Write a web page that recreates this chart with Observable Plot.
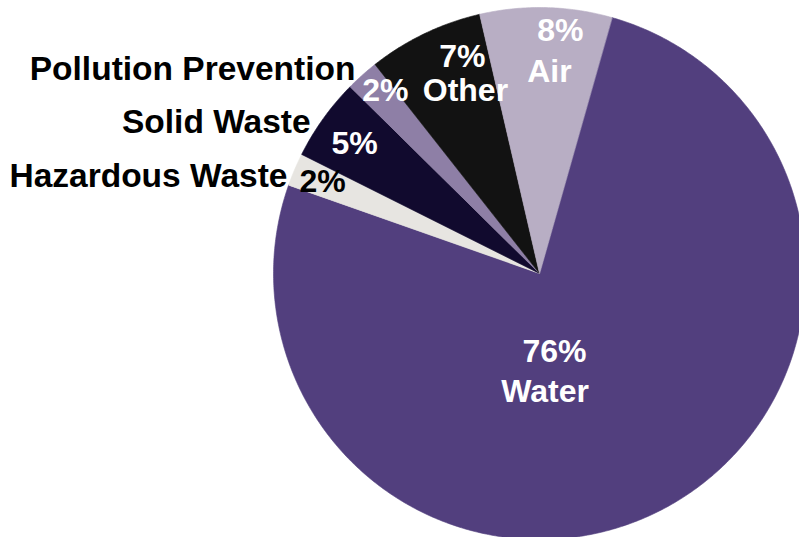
<!DOCTYPE html>
<html><head><meta charset="utf-8">
<script src="https://cdn.jsdelivr.net/npm/d3@7"></script>
<script src="https://cdn.jsdelivr.net/npm/@observablehq/plot@0.6"></script>
<style>html,body{margin:0;padding:0;background:#fff;overflow:hidden} svg{display:block}</style>
</head><body><div id="chart"></div>
<script>
// ---- data ----
const categories = ["Water", "Hazardous Waste", "Solid Waste", "Pollution Prevention", "Other", "Air"];
const shares = [76, 2, 5, 2, 7, 8];
const sliceColors = ["#523f7e", "#e7e5e1", "#110a2e", "#8e7fa6", "#121212", "#b8aec4"];

// ---- layout (label placement relative to slice mid-angle) ----
// [slice index, which text, angle offset (deg), radius factor, anchor, text colour]
const labelLayout = [
  [0, "pct", 16.6, 0.30, "middle", "#ffffff"],
  [0, "name", 24.7, 0.446, "middle", "#ffffff"],
  [1, "pct", -0.1, 0.885, "middle", "#000000"],
  [1, "name", -1.85, 1.016, "end", "#000000"],
  [2, "pct", -0.6, 0.849, "middle", "#ffffff"],
  [2, "name", -2.1, 1.032, "end", "#000000"],
  [3, "pct", 1.6, 0.898, "middle", "#ffffff"],
  [3, "name", -0.2, 1.034, "end", "#000000"],
  [4, "pct", 6.0, 0.864, "middle", "#ffffff"],
  [4, "name", 3.5, 0.740, "middle", "#ffffff"],
  [5, "pct", 3.5, 0.915, "middle", "#ffffff"],
  [5, "name", 1.4, 0.758, "middle", "#ffffff"]
];
const startDeg = 15.8;

// ---- build slices ----
const total = d3.sum(shares);
const slices = [];
let acc = 0;
categories.forEach((c, i) => {
  const a0 = startDeg + acc / total * 360;
  acc += shares[i];
  const a1 = startDeg + acc / total * 360;
  slices.push({c, v: shares[i], a0, a1, mid: (a0 + a1) / 2});
});
const polar = (deg, r) => ({x: r * Math.sin(deg * Math.PI / 180), y: r * Math.cos(deg * Math.PI / 180)});
const pts = [];
slices.forEach(s => {
  pts.push({c: s.c, ...polar(s.a0, 0)});
  const n = Math.max(6, Math.ceil((s.a1 - s.a0) * 2));
  for (let k = 0; k <= n; k++) pts.push({c: s.c, ...polar(s.a0 + (s.a1 - s.a0) * k / n, 1)});
});
const labels = labelLayout.map(([i, kind, dA, r, anchor, col]) => {
  const s = slices[i];
  const p = polar(s.mid + dA, r);
  return {x: p.x, y: p.y, text: kind === "pct" ? s.v + "%" : s.c, anchor, col};
});

const W = 799, H = 537, cx = 539, cy = 273, R = 266;
const chart = Plot.plot({
  width: W, height: H,
  margin: 0,
  x: {domain: [-cx / R, (W - cx) / R], axis: null},
  y: {domain: [-(H - cy) / R, cy / R], axis: null},
  color: {domain: categories, range: sliceColors},
  style: {fontFamily: "'Liberation Sans', Arial, Helvetica, sans-serif", background: "#fff"},
  marks: [
    Plot.line(pts, {x: "x", y: "y", z: "c", fill: "c", stroke: "c", strokeWidth: 0.6, curve: "linear-closed"}),
    Plot.text(labels.filter(d => d.anchor === "middle"), {x: "x", y: "y", text: "text", fill: "col", fontSize: 32, fontWeight: "bold", textAnchor: "middle"}),
    Plot.text(labels.filter(d => d.anchor === "end"), {x: "x", y: "y", text: "text", fill: "col", fontSize: 33.5, fontWeight: "bold", textAnchor: "end"})
  ]
});
document.getElementById("chart").appendChild(chart);
</script>
</body></html>
